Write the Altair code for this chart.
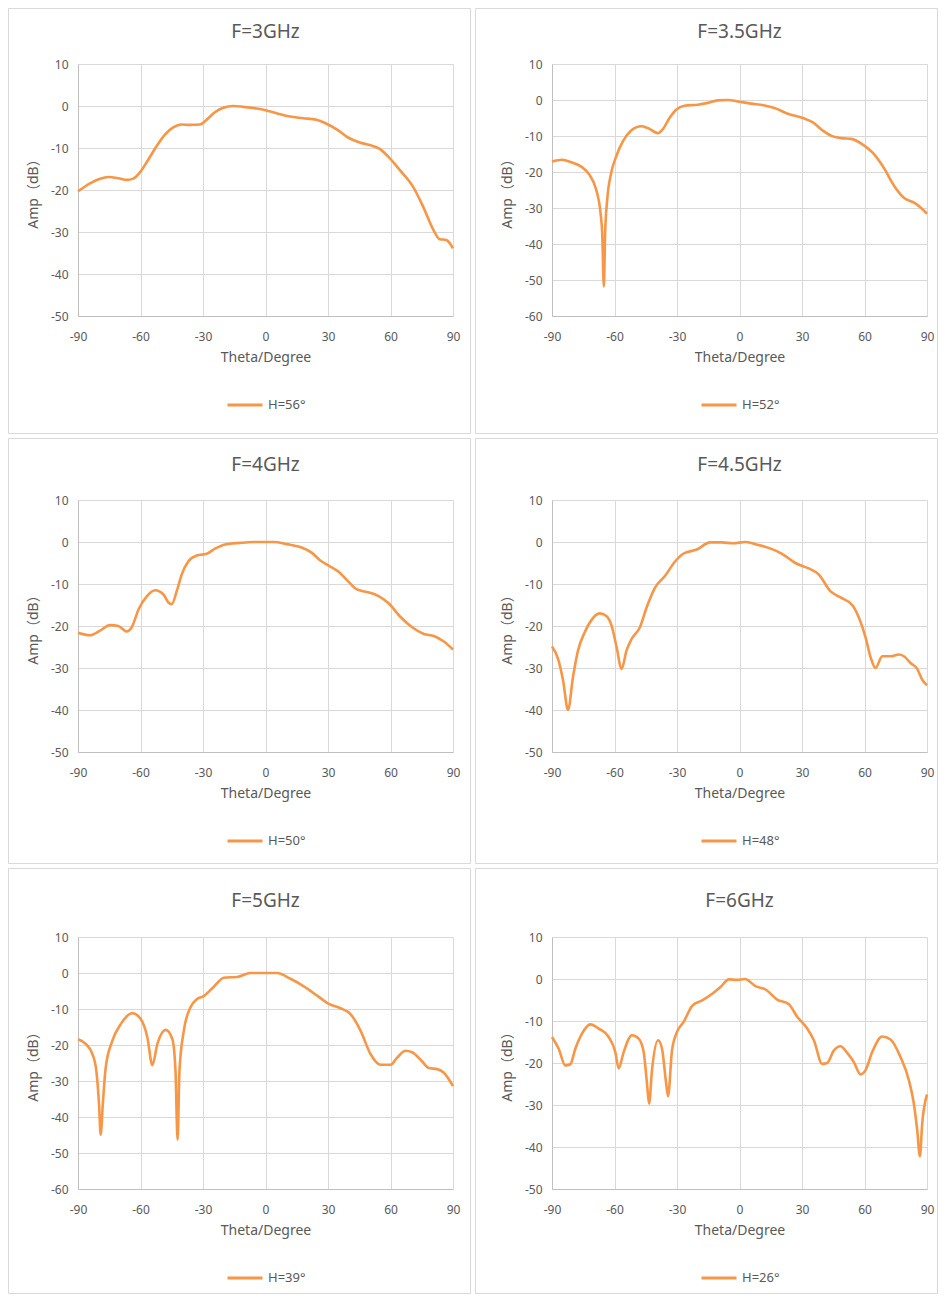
import altair as alt
import pandas as pd

FONT = "Noto Sans, Noto Sans CJK SC"
TXT = "#595959"
ORANGE = "#F79646"

x_ticks = [-90, -60, -30, 0, 30, 60, 90]

# ---- F=3GHz ----
th1 = [-90, -84.2, -79.4, -75.4, -70.6, -66.6, -63.5, -60.3, -56.3, -52.3, -48.3, -44.3, -40.3, -36.3,
       -31.5, -28.3, -24.3, -20.3, -15.5, -10.7, -4.3, 0, 5.3, 11.7, 18.1, 24.5, 30, 34.0, 39.6, 45.2,
       50.0, 54.8, 59.6, 64.4, 70.8, 75.6, 80.4, 83.6, 86.8, 90]
am1 = [-20.3, -18.4, -17.3, -16.9, -17.2, -17.6, -17.3, -15.8, -12.8, -9.6, -6.8, -5.1, -4.4, -4.5,
       -4.4, -3.3, -1.5, -0.4, 0.0, -0.2, -0.6, -1.0, -1.7, -2.5, -2.9, -3.3, -4.4, -5.5, -7.5, -8.7,
       -9.3, -10.2, -12.4, -15.2, -19.2, -23.9, -29.3, -31.7, -31.9, -33.9]

# ---- F=3.5GHz ----
th2 = [-90, -85.2, -80.8, -76, -72, -68.8, -66.7, -65.9, -65.1, -64.5, -63.5, -61.6, -59.2, -56, -52,
       -47.2, -44, -39.2, -36.8, -33.6, -30.4, -26.4, -20, -15.2, -10.4, -5.6, 0, 5.6, 12, 16.8, 23.2,
       30.4, 35.2, 40, 44.8, 48.8, 53.6, 59.2, 64, 68.8, 74.4, 79.2, 84, 87.2, 90]
am2 = [-17.1, -16.6, -17.3, -18.5, -20.8, -24.9, -31.4, -37.0, -51.8, -37.0, -27.7, -20.3, -15.7, -11.5,
       -8.5, -7.3, -7.8, -9.2, -8.1, -5.0, -2.7, -1.6, -1.3, -0.8, -0.1, 0.0, -0.5, -1.0, -1.5, -2.2,
       -3.8, -5.0, -6.2, -8.5, -10.1, -10.6, -10.8, -12.4, -14.7, -18.4, -24.0, -27.3, -28.6, -30.0, -31.6]

# ---- F=4GHz ----
th3 = [-90, -84.2, -79.4, -74.6, -70.6, -66.6, -64.2, -60.9, -56.9, -52.9, -49, -46.6, -45, -42.6,
       -40.2, -37, -33, -28.2, -24.2, -19.4, -12.2, -5.8, 3.8, 10.3, 16.7, 22.3, 26.3, 30.3, 35.1, 39.9,
       43.9, 48.7, 54.3, 59.1, 64.7, 70.4, 76, 80.8, 85.6, 90]
am3 = [-21.6, -22.2, -21.1, -19.8, -20.0, -21.3, -20.3, -16.0, -12.9, -11.5, -12.5, -14.4, -14.8, -11.7,
       -7.7, -4.6, -3.2, -2.8, -1.6, -0.6, -0.2, 0.0, 0.0, -0.5, -1.2, -2.6, -4.4, -5.6, -7.1, -9.5,
       -11.3, -11.9, -12.9, -14.6, -17.8, -20.3, -21.9, -22.4, -23.7, -25.6]

# ---- F=4.5GHz ----
th4 = [-90, -87.1, -84.7, -82.3, -79.9, -77.5, -74.3, -71.1, -67.1, -63.9, -61.4, -59, -56.6, -54.2,
       -51.8, -47.8, -44.6, -40.6, -35.8, -31, -27, -20.5, -14.1, -8.5, -2.9, 2.7, 7.5, 14, 20.4, 26.8,
       33.2, 38.0, 43.6, 48.5, 54.1, 57.3, 60.5, 62.9, 65.3, 68.5, 72.5, 76.5, 78.9, 82.1, 85.3, 87.7, 90]
am4 = [-24.9, -27.8, -32.9, -40.0, -32.1, -25.8, -21.5, -18.6, -17.0, -17.6, -19.9, -25.0, -30.2, -25.8,
       -23.1, -20.3, -15.6, -10.9, -8.1, -4.7, -2.8, -1.8, -0.1, -0.1, -0.3, 0.0, -0.5, -1.4, -2.8, -5.0,
       -6.3, -7.7, -11.7, -13.2, -15.0, -18.0, -22.7, -27.4, -30.0, -27.2, -27.2, -26.8, -27.2, -28.8,
       -30.2, -32.8, -34.1]

# ---- F=5GHz ----
th5 = [-90, -86.3, -83.1, -81.2, -79.9, -79.1, -78.1, -76.7, -73.5, -69.5, -63.9, -59.9, -56.7, -54.3,
       -51.9, -47.9, -44.7, -43.2, -42.2, -41.3, -39.2, -36, -32.8, -29.6, -24.8, -20, -13.6, -7.2, 0,
       5.6, 12, 18.4, 24.8, 30.4, 36, 40.8, 45.6, 50.4, 55.2, 60, 63.2, 67.2, 70.4, 75.2, 78.4, 82.4,
       85.6, 90]
am5 = [-18.4, -19.7, -22.5, -27.2, -36.5, -44.9, -36.5, -26.3, -18.8, -14.2, -11.2, -12.8, -17.9, -25.6,
       -19.7, -15.8, -18.4, -27.2, -46.3, -27.2, -16.0, -9.5, -7.2, -6.4, -3.8, -1.3, -1.1, 0.0, 0.0,
       0.0, -1.6, -3.7, -6.3, -8.6, -9.8, -11.4, -16.0, -22.5, -25.5, -25.5, -23.5, -21.6, -22.0, -24.6,
       -26.4, -26.7, -27.7, -31.4]

# ---- F=6GHz ----
th6 = [-90, -86.8, -83.6, -81.2, -78.8, -75.6, -71.6, -67.6, -62.8, -59.6, -58, -55.6, -51.6, -48.4,
       -46, -44.4, -43.4, -42, -39.1, -37.2, -35.2, -34.3, -32.4, -30, -26.8, -22.7, -17.9, -13.1, -9.1,
       -5.1, -1.1, 2.6, 7.7, 12.5, 18.1, 23.7, 27.7, 32.5, 35.7, 39.7, 42.1, 45.3, 48.5, 51.7, 54.9,
       58.1, 60.5, 63.7, 68.5, 72.5, 77.3, 81.3, 83.7, 85.3, 86.6, 87.7, 90]
am6 = [-13.8, -16.6, -20.6, -20.3, -16.6, -13.0, -10.8, -11.8, -13.8, -17.4, -21.3, -17.4, -13.4, -14.2,
       -17.4, -24.9, -29.7, -21.7, -14.6, -16.6, -24.9, -27.9, -17.0, -12.6, -10.2, -6.4, -5.1, -3.5, -1.9,
       -0.1, -0.2, 0.0, -1.7, -2.5, -4.9, -6.0, -9.0, -11.8, -14.6, -20.2, -20.0, -17.0, -16.0, -17.6,
       -19.8, -22.7, -21.7, -17.4, -13.7, -14.4, -18.6, -24.1, -29.7, -36.0, -42.2, -34.4, -27.5]

titles = ["F=3GHz", "F=3.5GHz", "F=4GHz", "F=4.5GHz", "F=5GHz", "F=6GHz"]
series = ["H=56°", "H=52°", "H=50°", "H=48°", "H=39°", "H=26°"]
ymins = [-50, -60, -50, -50, -60, -50]
thetas = [th1, th2, th3, th4, th5, th6]
amps = [am1, am2, am3, am4, am5, am6]

PW, PH = 375, 252
CELL_W, CELL_H = 463, 426
LEFTS = [70, 77]        # plot offset inside cell, per column
TOPS = [56, 62, 69]     # plot offset inside cell, per row
TITLE_BASE = [27, 30, 31]  # title baseline distance above plot, per row


def panel(i):
    col, row = i % 2, i // 2
    L, T = LEFTS[col], TOPS[row]
    df = pd.DataFrame({"theta": thetas[i], "amp": amps[i], "series": series[i]})
    ymin = ymins[i]
    frame = alt.Chart(pd.DataFrame({"k": [0]})).mark_rect(
        filled=False, stroke="#d9d9d9", strokeWidth=1
    ).encode(
        x=alt.value(-L + 0.5), x2=alt.value(CELL_W - L - 0.5),
        y=alt.value(-T + 0.5), y2=alt.value(CELL_H - T - 0.5),
    )
    line = alt.Chart(df).mark_line(strokeWidth=2.6, interpolate="monotone").encode(
        x=alt.X("theta:Q",
                scale=alt.Scale(domain=[-90, 90], nice=False, zero=False),
                axis=alt.Axis(values=x_ticks, title="Theta/Degree", labelFlush=False,
                              labelExpr="'' + datum.value",
                              labelPadding=15, titleY=41, titleBaseline="middle")),
        y=alt.Y("amp:Q",
                scale=alt.Scale(domain=[ymin, 10], nice=False, zero=False),
                axis=alt.Axis(values=list(range(ymin, 11, 10)), title="Amp（dB）",
                              labelExpr="'' + datum.value",
                              labelPadding=10, titleX=-45, titleY=PH / 2,
                              titleBaseline="middle")),
        color=alt.Color("series:N", scale=alt.Scale(range=[ORANGE]),
                        legend=alt.Legend(title=None, orient="none", legendX=148, legendY=322,
                                          symbolType="stroke", symbolSize=1225,
                                          symbolStrokeWidth=3, labelFontSize=13,
                                          labelColor=TXT, labelFont=FONT, padding=0)),
    )
    off = -(T + 0.5) + TITLE_BASE[row] - 19
    return alt.layer(frame, line).properties(
        width=PW, height=PH,
        title=alt.TitleParams(titles[i], frame="group", anchor="middle", baseline="alphabetic",
                              offset=off, fontSize=19, fontWeight="normal",
                              color=TXT, font=FONT),
    )


chart = alt.concat(*[panel(i) for i in range(6)], columns=2, spacing=4).resolve_scale(
    x="independent", y="independent", color="independent"
).resolve_legend(color="independent").properties(
    padding=0
).configure_view(
    strokeWidth=0
).configure_axis(
    grid=True, gridColor="#d9d9d9", gridWidth=1,
    domainColor="#bfbfbf", domainWidth=1, ticks=False,
    labelColor=TXT, labelFont=FONT, labelFontSize=12,
    titleColor=TXT, titleFont=FONT, titleFontSize=14, titleFontWeight="normal",
)

chart.save("out.html", embed_options={"renderer": "svg", "actions": False})
